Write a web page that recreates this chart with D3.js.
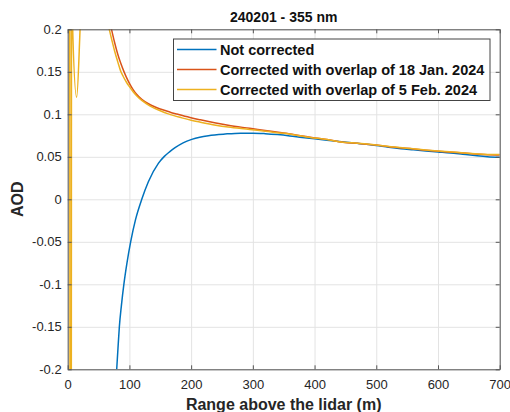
<!DOCTYPE html>
<html>
<head>
  <meta charset="utf-8">
  <script src="https://d3js.org/d3.v7.min.js"></script>
  <style>
    body { margin: 0; background: #fff; }
    svg { font-family: "Liberation Sans", Arial, sans-serif; }
    .tick text { fill: #262626; font-size: 13px; }
    .grid line { stroke: #e3e3e3; }
    .grid .domain { display: none; }
    .ax .domain, .ax line { stroke: #555; }
    .line { fill: none; stroke-width: 1.5; }
  </style>
</head>
<body>
  <script>
    // Range (m) and AOD
    const blueX = [79.4, 81.5, 83.7, 87, 91, 96, 102, 110, 120, 130.7, 146.9, 156.6, 165, 174, 187, 201, 214, 228, 255, 280, 300, 320, 340, 360, 380, 400, 420, 440, 460, 480, 500, 520, 540, 560, 580, 600, 620, 640, 660, 680, 700];
    const blueY = [-0.2, -0.175, -0.15, -0.125, -0.1, -0.075, -0.05, -0.0236, 0, 0.0207, 0.0423, 0.0505, 0.0558, 0.0607, 0.0664, 0.0705, 0.0731, 0.0749, 0.0768, 0.0778, 0.0778, 0.0772, 0.0761, 0.0746, 0.0728, 0.0712, 0.0695, 0.0679, 0.0664, 0.065, 0.0632, 0.0612, 0.0595, 0.0582, 0.0569, 0.0557, 0.0545, 0.053, 0.0515, 0.0502, 0.0495];

    const orangeX = [60, 65, 71, 76, 81, 86, 91, 95, 100, 106, 112, 120, 133, 150, 166, 177, 198, 215, 240, 260, 295, 320, 350, 393, 420, 446, 470, 500, 530, 560, 580, 600, 630, 660, 680, 700];
    const orangeY = [0.245, 0.22, 0.2, 0.1845, 0.171, 0.16, 0.1505, 0.1438, 0.1365, 0.1291, 0.1233, 0.1175, 0.1115, 0.1062, 0.1025, 0.1003, 0.0963, 0.0935, 0.0897, 0.087, 0.0835, 0.081, 0.078, 0.073, 0.0705, 0.0672, 0.0658, 0.0638, 0.0612, 0.0592, 0.0578, 0.0566, 0.055, 0.0534, 0.0524, 0.0522];

    const yellowX = [2.5, 5, 7, 7.5, 14.5, 21, 40, 62, 67.4, 72, 76, 81, 86, 90, 95, 100, 106, 112, 120, 133, 150, 163, 185, 200, 215, 240, 260, 295, 320, 350, 393, 420, 446, 470, 500, 530, 560, 580, 600, 630, 660, 680, 700];
    const yellowY = [1.5, -1.5, 1.5, 0.215, 0.12, 0.215, 0.4, 0.218, 0.2, 0.186, 0.1745, 0.162, 0.1505, 0.1445, 0.138, 0.1325, 0.1265, 0.1215, 0.1163, 0.11, 0.1042, 0.1005, 0.0958, 0.093, 0.0907, 0.0872, 0.085, 0.0822, 0.08, 0.0776, 0.0728, 0.0703, 0.0672, 0.066, 0.064, 0.0614, 0.0594, 0.058, 0.0568, 0.0553, 0.0537, 0.0528, 0.0528];

    const seriesNames = ["Not corrected", "Corrected with overlap of 18 Jan. 2024", "Corrected with overlap of 5 Feb. 2024"];
    const seriesColors = ["#0072BD", "#D95319", "#EDB120"];

    const xTicks = [0, 100, 200, 300, 400, 500, 600, 700];
    const xTickLabels = ["0", "100", "200", "300", "400", "500", "600", "700"];
    const yTicks = [-0.2, -0.15, -0.1, -0.05, 0, 0.05, 0.1, 0.15, 0.2];
    const yTickLabels = ["-0.2", "-0.15", "-0.1", "-0.05", "0", "0.05", "0.1", "0.15", "0.2"];

    const width = 510, height = 412;
    const plotLeft = 67.7, plotRight = 499.7, plotTop = 29.3, plotBottom = 369.3;

    const x = d3.scaleLinear().domain([0, 700]).range([plotLeft, plotRight]);
    const y = d3.scaleLinear().domain([-0.2, 0.2]).range([plotBottom, plotTop]);

    const svg = d3.select("body").append("svg")
      .attr("width", width).attr("height", height);

    // grid
    svg.append("g").attr("class", "grid")
      .attr("transform", `translate(0,${plotBottom})`)
      .call(d3.axisBottom(x).tickValues(xTicks).tickSize(-(plotBottom - plotTop)).tickFormat(""));
    svg.append("g").attr("class", "grid")
      .attr("transform", `translate(${plotLeft},0)`)
      .call(d3.axisLeft(y).tickValues(yTicks).tickSize(-(plotRight - plotLeft)).tickFormat(""));

    // lines
    svg.append("clipPath").attr("id", "clip")
      .append("rect").attr("x", plotLeft).attr("y", plotTop)
      .attr("width", plotRight - plotLeft).attr("height", plotBottom - plotTop);

    const series = [
      { xs: blueX, ys: blueY },
      { xs: orangeX, ys: orangeY },
      { xs: yellowX, ys: yellowY }
    ];
    const line = d3.line().curve(d3.curveMonotoneX).x(d => x(d[0])).y(d => y(d[1]));

    svg.append("g").attr("clip-path", "url(#clip)")
      .selectAll("path")
      .data(series)
      .join("path")
      .attr("class", "line")
      .attr("stroke", (d, i) => seriesColors[i])
      .attr("d", d => line(d.xs.map((v, j) => [v, d.ys[j]])));

    // axes (MATLAB style: ticks inside, box on)
    const xFmt = (d, i) => xTickLabels[i];
    const yFmt = (d, i) => yTickLabels[i];
    svg.append("g").attr("class", "ax")
      .attr("transform", `translate(0,${plotBottom})`)
      .call(d3.axisBottom(x).tickValues(xTicks).tickFormat(xFmt).tickSizeInner(-4).tickSizeOuter(0).tickPadding(10));
    svg.append("g").attr("class", "ax")
      .attr("transform", `translate(${plotLeft},0)`)
      .call(d3.axisLeft(y).tickValues(yTicks).tickFormat(yFmt).tickSizeInner(-4).tickSizeOuter(0).tickPadding(6));
    svg.append("g").attr("class", "ax")
      .attr("transform", `translate(0,${plotTop})`)
      .call(d3.axisTop(x).tickValues(xTicks).tickFormat("").tickSizeInner(-4).tickSizeOuter(0));
    svg.append("g").attr("class", "ax")
      .attr("transform", `translate(${plotRight},0)`)
      .call(d3.axisRight(y).tickValues(yTicks).tickFormat("").tickSizeInner(-4).tickSizeOuter(0));

    // title and labels
    svg.append("text")
      .attr("x", (plotLeft + plotRight) / 2).attr("y", 22)
      .attr("text-anchor", "middle")
      .attr("font-weight", "bold").attr("font-size", 14).attr("fill", "#111")
      .text("240201 - 355 nm");

    svg.append("text")
      .attr("x", (plotLeft + plotRight) / 2).attr("y", 410)
      .attr("text-anchor", "middle")
      .attr("font-weight", "bold").attr("font-size", 16).attr("fill", "#262626")
      .text("Range above the lidar (m)");

    svg.append("text")
      .attr("transform", `translate(23.3,${(plotTop + plotBottom) / 2}) rotate(-90)`)
      .attr("text-anchor", "middle")
      .attr("font-weight", "bold").attr("font-size", 16).attr("fill", "#262626")
      .text("AOD");

    // legend
    const legend = svg.append("g");
    legend.append("rect")
      .attr("x", 173.5).attr("y", 39).attr("width", 316.5).attr("height", 61.5)
      .attr("fill", "#fff").attr("stroke", "#444");
    const rows = legend.selectAll("g.row")
      .data(seriesNames)
      .join("g")
      .attr("class", "row")
      .attr("transform", (d, i) => `translate(0,${49.5 + i * 20})`);
    rows.append("line")
      .attr("x1", 177).attr("x2", 216.5)
      .attr("stroke", (d, i) => seriesColors[i]).attr("stroke-width", 1.5);
    rows.append("text")
      .attr("x", 220).attr("dy", "0.35em")
      .attr("font-weight", "bold").attr("font-size", 14.5).attr("fill", "#111")
      .text(d => d);
  </script>
</body>
</html>
